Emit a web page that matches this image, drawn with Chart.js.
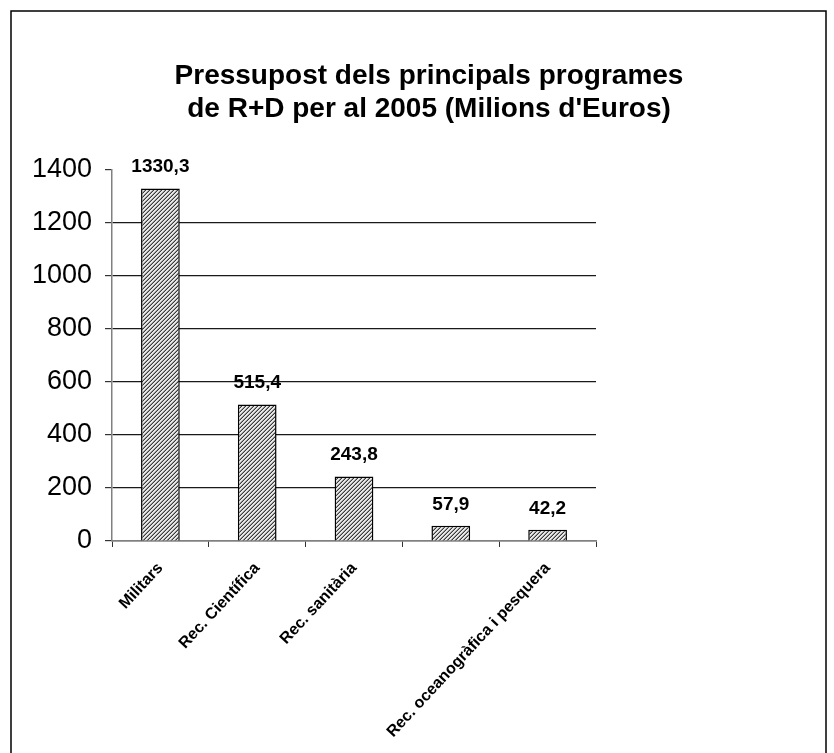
<!DOCTYPE html>
<html>
<head>
<meta charset="utf-8">
<script src="https://cdn.jsdelivr.net/npm/chart.js@4/dist/chart.umd.min.js"></script>
<style>
  html, body { margin: 0; padding: 0; background: #fff; }
</style>
</head>
<body>
<canvas id="chart" width="834" height="753"></canvas>
<script>
// Données du graphique
const categories = ["Militars", "Rec. Científica", "Rec. sanitària", "", "Rec. oceanogràfica i pesquera"];
const valeurs = [1330.3, 515.4, 243.8, 57.9, 42.2];
const titre = ["Pressupost dels principals programes", "de R+D per al 2005 (Milions d'Euros)"];
const yTicks = [0, 200, 400, 600, 800, 1000, 1200, 1400];

const police = "'Liberation Sans', Arial, sans-serif";

// Motif hachuré fin pour les barres (diagonales montantes)
function creerMotif() {
    const c = document.createElement("canvas");
    c.width = 4;
    c.height = 4;
    const g = c.getContext("2d");
    for (let x = 0; x < 4; x++) {
        for (let y = 0; y < 4; y++) {
            const k = (x + y) % 4;
            g.fillStyle = k === 3 ? "#3a3a3a" : (k === 2 ? "#9a9a9a" : "#e8e8e8");
            g.fillRect(x, y, 1, 1);
        }
    }
    return g.createPattern(c, "repeat");
}

// Cadre, titre et étiquettes de valeurs
const decor = {
    id: "decor",
    beforeDraw(chart) {
        const ctx = chart.ctx;
        ctx.save();
        ctx.fillStyle = "#fff";
        ctx.fillRect(0, 0, chart.width, chart.height);
        ctx.strokeStyle = "#000";
        ctx.lineWidth = 1.5;
        ctx.strokeRect(11, 11, 815, 800);
        ctx.fillStyle = "#000";
        ctx.font = "bold 28px " + police;
        ctx.textAlign = "center";
        ctx.textBaseline = "alphabetic";
        ctx.fillText(titre[0], 429, 84);
        ctx.fillText(titre[1], 429, 117);
        ctx.restore();
    },
    afterDatasetsDraw(chart) {
        const ctx = chart.ctx;
        ctx.save();
        ctx.fillStyle = "#000";
        ctx.font = "bold 19px " + police;
        ctx.textAlign = "center";
        ctx.textBaseline = "alphabetic";
        chart.getDatasetMeta(0).data.forEach((bar, i) => {
            ctx.fillText(valeurs[i].toFixed(1).replace(".", ","), bar.x, bar.y - 16);
        });
        ctx.restore();
    }
};

const ctx = document.getElementById("chart").getContext("2d");

new Chart(ctx, {
    type: "bar",
    data: {
        labels: categories,
        datasets: [{
            data: valeurs,
            backgroundColor: creerMotif(),
            borderColor: "#000",
            borderWidth: 1.5,
            categoryPercentage: 1,
            barPercentage: 0.4
        }]
    },
    options: {
        responsive: false,
        animation: false,
        layout: { padding: { left: 0, right: 238, top: 170, bottom: 0 } },
        plugins: {
            legend: { display: false },
            title: { display: false },
            tooltip: { enabled: false }
        },
        scales: {
            x: {
                afterFit: (s) => { s.height = 212; },
                grid: {
                    drawOnChartArea: false,
                    tickLength: 6,
                    tickColor: "#333",
                    offset: true
                },
                border: { color: "#808080", width: 1.5 },
                ticks: {
                    font: { family: police, size: 16, weight: "bold" },
                    color: "#000",
                    minRotation: 47,
                    maxRotation: 47,
                    padding: 12
                }
            },
            y: {
                min: 0,
                max: 1400,
                afterFit: (s) => { s.width = 112; },
                afterBuildTicks: (s) => { s.ticks = yTicks.map(v => ({ value: v })); },
                grid: {
                    color: (c) => (c.tick && c.tick.value === 1400) ? "rgba(0,0,0,0)" : "#1a1a1a",
                    tickColor: "#333",
                    tickLength: 7,
                    lineWidth: 1.2
                },
                border: { color: "#808080", width: 1.5 },
                ticks: {
                    font: { family: police, size: 27 },
                    color: "#000",
                    padding: 13,
                    callback: (v) => String(v)
                }
            }
        }
    },
    plugins: [decor]
});
</script>
</body>
</html>
